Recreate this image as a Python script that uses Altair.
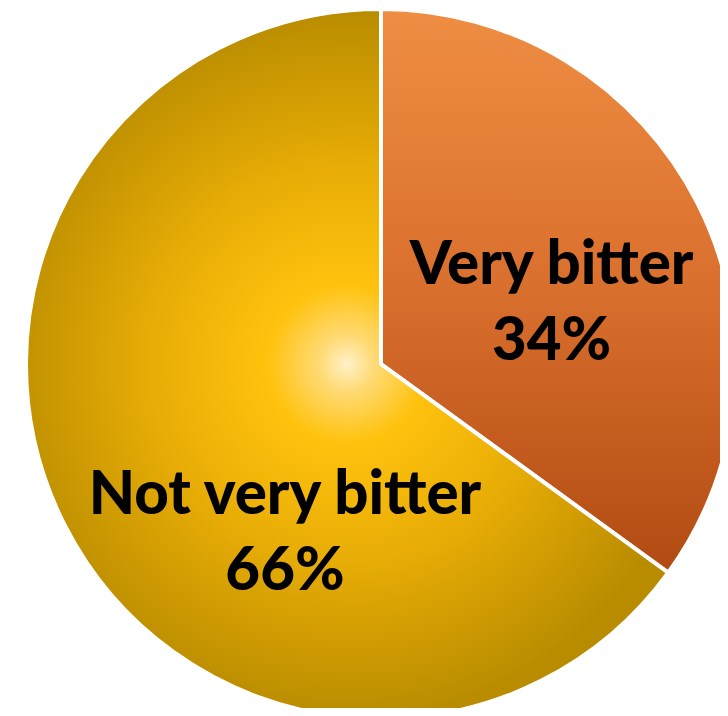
import altair as alt
import pandas as pd

# Values
categories = ["Very bitter", "Not very bitter"]
shares = [35, 65]            # slice sizes as drawn (boundary at ~126 deg)
pct_labels = ["34%", "66%"]  # label text as printed
slice_order = [0, 1]

df = pd.DataFrame({
    "category": categories,
    "share": shares,
    "pct": pct_labels,
    "order": slice_order,
})
df["label"] = df["category"] + "\n" + df["pct"]

orange_grad = alt.LinearGradient(
    gradient="linear",
    x1=0, y1=0, x2=0, y2=1,
    stops=[
        alt.GradientStop(color="#EF8D43", offset=0),
        alt.GradientStop(color="#D96F2D", offset=0.5),
        alt.GradientStop(color="#B14B12", offset=1),
    ],
)
gold_grad = alt.RadialGradient(
    gradient="radial",
    x1=0.5, y1=0.5, r1=0,
    x2=0.5, y2=0.5, r2=0.5,
    stops=[
        alt.GradientStop(color="#FFF1C9", offset=0),
        alt.GradientStop(color="#FFDA73", offset=0.08),
        alt.GradientStop(color="#FFC20E", offset=0.22),
        alt.GradientStop(color="#E8AD06", offset=0.55),
        alt.GradientStop(color="#B98C00", offset=1),
    ],
)

CX, CY, R = 373, 356, 355

base = alt.Chart(df)

pie = base.mark_arc(radius=R, stroke="white", strokeWidth=4).encode(
    theta=alt.Theta("share:Q", stack=True),
    order=alt.Order("order:Q"),
    color=alt.condition(
        alt.datum.category == "Very bitter",
        alt.value(orange_grad),
        alt.value(gold_grad),
    ),
    x=alt.value(CX),
    y=alt.value(CY),
)

text_style = dict(
    font="Lato", fontWeight=900, fontSize=60, color="black",
    lineBreak="\n", lineHeight=76, align="center", baseline="middle", dy=-38,
)

lab_vb = base.transform_filter(alt.datum.category == "Very bitter").mark_text(
    radius=181, theta=1.2305, **text_style
).encode(text="label:N", x=alt.value(CX), y=alt.value(CY))

lab_nvb = base.transform_filter(alt.datum.category == "Not very bitter").mark_text(
    radius=195, theta=3.6565, **text_style
).encode(text="label:N", x=alt.value(CX), y=alt.value(CY))

chart = alt.layer(pie, lab_vb, lab_nvb).properties(
    width=712, height=700,
    autosize=alt.AutoSizeParams(type="none"),
    padding=0,
).configure_view(stroke=None)

chart.save("out.html", embed_options={"renderer": "svg", "actions": False})
